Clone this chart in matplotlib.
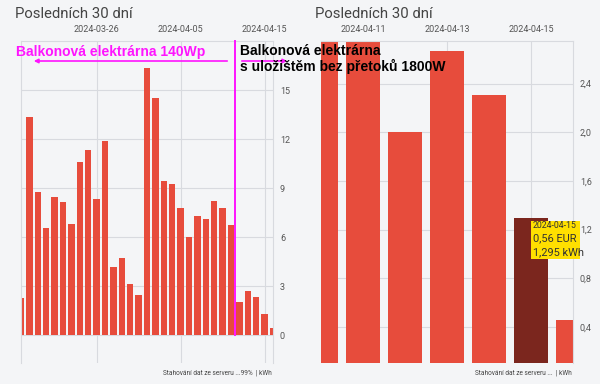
import matplotlib
matplotlib.use("Agg")
import matplotlib.pyplot as plt
import matplotlib.patches as patches
import pandas as pd

# daily production, 2024-03-17 .. 2024-04-16 (kWh)
days = pd.date_range("2024-03-17", "2024-04-16", freq="D")
kwh = [2.27, 13.35, 8.76, 6.57, 8.43, 8.12, 6.82, 10.6, 11.35, 8.33,
       11.86, 4.18, 4.69, 3.12, 2.45, 16.33, 14.49, 9.41, 9.22, 7.76,
       5.98, 7.31, 7.08, 8.2, 7.76, 6.76, 2.0, 2.67, 2.31, 1.295, 0.46]

left_ticks = ["2024-03-26", "2024-04-05", "2024-04-15"]
right_ticks = ["2024-04-11", "2024-04-13", "2024-04-15"]
left_yticks = [0, 3, 6, 9, 12, 15]
right_yticks = [0.4, 0.8, 1.2, 1.6, 2.0, 2.4]
switch_day = "2024-04-12"   # new system since this day
hl_day = "2024-04-15"
hl_eur = "0,56 EUR"

BG = "#f4f5f7"
RED = "#e74c3c"
DARK = "#7b261e"
GRID = "#d8dadf"
MAG = "#ff14ff"
TXT = "#555555"

plt.rcParams["font.family"] = ["Roboto", "DejaVu Sans"]
BOLD = ["Liberation Sans", "DejaVu Sans"]

fig = plt.figure(figsize=(6, 3.84), dpi=100)
fig.patch.set_facecolor(BG)
W, H = 600, 384


def fx(x):
    return x / W


def fy(y):
    return 1 - y / H


axL = fig.add_axes([fx(21), fy(363), 252 / W, 322 / H])
axR = fig.add_axes([fx(321), fy(363), 252 / W, 322 / H])

# right panel = last 7 days
r_days = days[-7:]
r_kwh = kwh[-7:]
r_cols = [DARK if d == pd.Timestamp(hl_day) else RED for d in r_days]

axL.bar(days, kwh, width=0.77, color=RED, zorder=2)
axR.bar(r_days, r_kwh, width=0.83, color=r_cols, zorder=2)

axL.set_xlim(days[0], days[-1])
axL.set_ylim(-1.71, 18.0)
axR.set_xlim(r_days[0], r_days[-1])
axR.set_ylim(0.104, 2.75)

for ax, xt in ((axL, left_ticks), (axR, right_ticks)):
    ax.set_facecolor(BG)
    ax.set_axisbelow(True)
    ax.xaxis.tick_top()
    ax.set_xticks(pd.to_datetime(xt))
    ax.set_xticklabels(xt)
    ax.yaxis.tick_right()
    ax.tick_params(length=0, labelsize=6.5, colors=TXT, pad=5)
    ax.grid(True, color=GRID, lw=0.8)
    for s in ("top", "right"):
        ax.spines[s].set_color(GRID)
        ax.spines[s].set_linewidth(0.8)
    ax.spines["bottom"].set_visible(False)

axL.spines["left"].set_color(GRID)
axL.spines["left"].set_linewidth(0.8)
axR.spines["left"].set_visible(False)

axL.set_yticks(left_yticks)
axL.set_yticklabels([str(v) for v in left_yticks])
axR.set_yticks(right_yticks)
axR.set_yticklabels([f"{v:.1f}".replace(".", ",") for v in right_yticks])

# titles
fig.text(fx(15), fy(14), "Posledních 30 dní", fontsize=10.7, color="#444444", va="center")
fig.text(fx(315), fy(14), "Posledních 30 dní", fontsize=10.7, color="#444444", va="center")

# footers
fig.text(fx(272), fy(373), "Stahování dat ze serveru ...99%  | kWh", fontsize=4.7,
         color="#444444", ha="right", va="center")
fig.text(fx(572), fy(373), "Stahování dat ze serveru ...  | kWh", fontsize=4.7,
         color="#444444", ha="right", va="center")

# magenta overlay: split line between the two systems
xs = pd.Timestamp(switch_day) - pd.Timedelta(hours=12)
axL.plot([xs, xs], [0, 18.0], color=MAG, lw=1.4, zorder=3, clip_on=False)

fig.text(fx(16), fy(52), "Balkonová elektrárna 140Wp", fontsize=10, color=MAG,
         fontweight="bold", family=BOLD, va="center")
fig.patches.append(patches.FancyArrowPatch((fx(230), fy(61)), (fx(31), fy(61)),
                                           transform=fig.transFigure, arrowstyle="-|>",
                                           mutation_scale=6, color=MAG, lw=1.2))
fig.patches.append(patches.FancyArrowPatch((fx(239), fy(61)), (fx(290), fy(61)),
                                           transform=fig.transFigure, arrowstyle="-|>",
                                           mutation_scale=6, color=MAG, lw=1.2))
fig.text(fx(240), fy(59), "Balkonová elektrárna\ns uložištěm bez přetoků 1800W",
         fontsize=10, color="black", fontweight="bold", linespacing=1.05,
         family=BOLD, va="center")

# tooltip
fig.patches.append(patches.Rectangle((fx(531), fy(259)), 49 / W, 38 / H,
                                     transform=fig.transFigure, color="#ffe000", lw=0))
fig.text(fx(533), fy(226), hl_day, fontsize=6.3, color="#333333", va="center")
i = list(days).index(pd.Timestamp(hl_day))
fig.text(fx(533), fy(238.5), hl_eur, fontsize=7.9, color="#333333", va="center")
fig.text(fx(533), fy(252), f"{kwh[i]:.3f}".replace(".", ",") + " kWh", fontsize=7.9,
         color="#333333", va="center")

fig.savefig("out.png", dpi=100, facecolor=BG)
